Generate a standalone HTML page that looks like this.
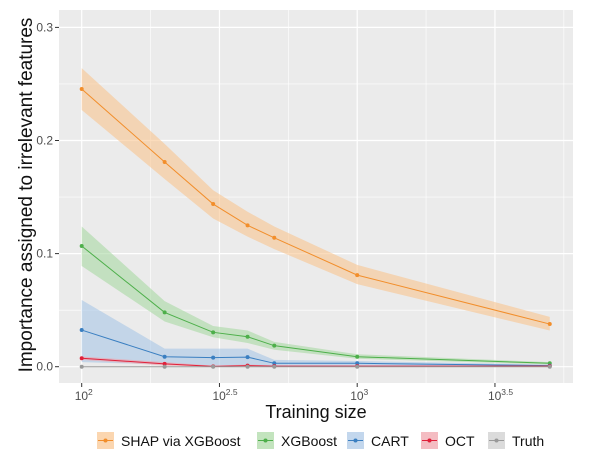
<!DOCTYPE html>
<html><head><meta charset="utf-8"><style>
body{margin:0;background:#fff;}
svg text{font-family:"Liberation Sans",sans-serif;}
</style></head><body>
<svg id="chart" width="600" height="456" xmlns="http://www.w3.org/2000/svg">
<rect x="59" y="10" width="514" height="373" fill="#ebebeb"/>
<g id="grid"></g><g id="series"></g><g id="axes"></g>
<text x="0" y="0" transform="translate(32,195) rotate(-90)" text-anchor="middle" font-size="19" fill="#111">Importance assigned to irrelevant features</text>
<text x="316" y="418" text-anchor="middle" font-size="18" fill="#111">Training size</text>
<g id="legend"></g>
</svg>
<script>
const xs=[100,200,300,400,500,1000,5000];
const shapMean=[0.2455,0.181,0.1438,0.125,0.114,0.081,0.0377];
const shapHi=[0.264,0.197,0.156,0.137,0.124,0.090,0.044];
const shapLo=[0.227,0.166,0.131,0.115,0.104,0.073,0.032];
const xgbMean=[0.1067,0.048,0.0304,0.0265,0.0186,0.0088,0.003];
const xgbHi=[0.124,0.058,0.036,0.032,0.022,0.011,0.004];
const xgbLo=[0.089,0.040,0.026,0.021,0.015,0.007,0.002];
const cartMean=[0.0324,0.0088,0.008,0.0085,0.003,0.003,0.001];
const cartHi=[0.059,0.016,0.016,0.016,0.006,0.005,0.002];
const cartLo=[0.004,0.002,0.001,0.001,0.001,0.001,0];
const octMean=[0.0075,0.0025,0.0003,0.001,0.0005,0.0005,0.0005];
const octHi=[0.009,0.004,0.001,0.002,0.001,0.001,0.001];
const octLo=[0.006,0.001,0,0,0,0,0];
const truthMean=[0,0,0,0,0,0,0];
const yTicks=[0,0.1,0.2,0.3];
const yTickLabels=["0.0","0.1","0.2","0.3"];
const xTickExp=[2,2.5,3,3.5];
const xTickSup=["2","2.5","3","3.5"];
const legendLabels=["SHAP via XGBoost","XGBoost","CART","OCT","Truth"];

const X=v=>81.7+(Math.log10(v)-2)*275.5;
const XL=e=>81.7+(e-2)*275.5;
const Y=v=>366.7-v*1131;
const NS="http://www.w3.org/2000/svg";
function mk(t,a,p){const e=document.createElementNS(NS,t);for(const k in a)e.setAttribute(k,a[k]);p.appendChild(e);return e;}
const grid=document.getElementById('grid'),ser=document.getElementById('series'),ax=document.getElementById('axes');
[0.05,0.15,0.25].forEach(v=>{const l=mk('line',{x1:59,x2:573,y1:Y(v),y2:Y(v),stroke:'#fff','stroke-width':0.6},grid);

});
[2.25,2.75,3.25,3.75].forEach(e=>{const l=mk('line',{x1:XL(e),x2:XL(e),y1:10,y2:383,stroke:'#fff','stroke-width':0.6},grid);

});
yTicks.forEach((v,i)=>{const l=mk('line',{x1:59,x2:573,y1:Y(v),y2:Y(v),stroke:'#fff','stroke-width':1.2},grid);


const t=mk('line',{x1:55,x2:59,y1:Y(v),y2:Y(v),stroke:'#333'},ax);


const tx=mk('text',{x:53,y:Y(v)+4,'text-anchor':'end','font-size':12,fill:'#4d4d4d'},ax);tx.textContent=yTickLabels[i];

});
xTickExp.forEach((e,i)=>{const l=mk('line',{x1:XL(e),x2:XL(e),y1:10,y2:383,stroke:'#fff','stroke-width':1.2},grid);


const t=mk('line',{x1:XL(e),x2:XL(e),y1:383,y2:387,stroke:'#333'},ax);


const tx=mk('text',{x:XL(e)-7,y:400,'font-size':12,fill:'#4d4d4d'},ax);


tx.textContent='10';const s=mk('tspan',{dy:-5,'font-size':8.5},tx);s.textContent=xTickSup[i];});
const S=[
 ['shap',shapMean,shapHi,shapLo,'#f28e2b','#f9c48f'],
 ['xgboost',xgbMean,xgbHi,xgbLo,'#4daf4a','#a9d8a3'],
 ['cart',cartMean,cartHi,cartLo,'#3a7fc1','#a9c6e6'],
 ['oct',octMean,octHi,octLo,'#e0203a','#f0a0a8'],
 ['truth',truthMean,truthMean,truthMean,'#999','#ccc']];
S.forEach(([n,m,h,lo,c,f])=>{
 let d='M'+xs.map((x,i)=>X(x)+','+Y(h[i])).join('L')+'L'+xs.map((x,i)=>X(x)+','+Y(lo[i])).reverse().join('L')+'Z';
 const b=mk('path',{d:d,fill:f,opacity:0.6},ser);
 
 
 const l=mk('polyline',{points:xs.map((x,i)=>X(x)+','+Y(m[i])).join(' '),fill:'none',stroke:c,'stroke-width':1},ser);
 
 
 xs.forEach((x,i)=>{const p=mk('circle',{cx:X(x),cy:Y(m[i]),r:2,fill:c},ser);
 
 });
});
const lg=document.getElementById('legend');
const lx=[97,257,347,421,488];
legendLabels.forEach((t,i)=>{const c=S[i][4],f=S[i][5];
 const g=mk('g',{},lg);
 
 
 mk('rect',{x:lx[i],y:432,width:17,height:17,fill:f,opacity:0.7},g);
 mk('line',{x1:lx[i]+1,x2:lx[i]+16,y1:440.5,y2:440.5,stroke:c},g);
 mk('circle',{cx:lx[i]+8.5,cy:440.5,r:2,fill:c},g);
 const tx=mk('text',{x:lx[i]+24,y:446,'font-size':14,fill:'#111'},g);tx.textContent=t;});
</script>
</body></html>
